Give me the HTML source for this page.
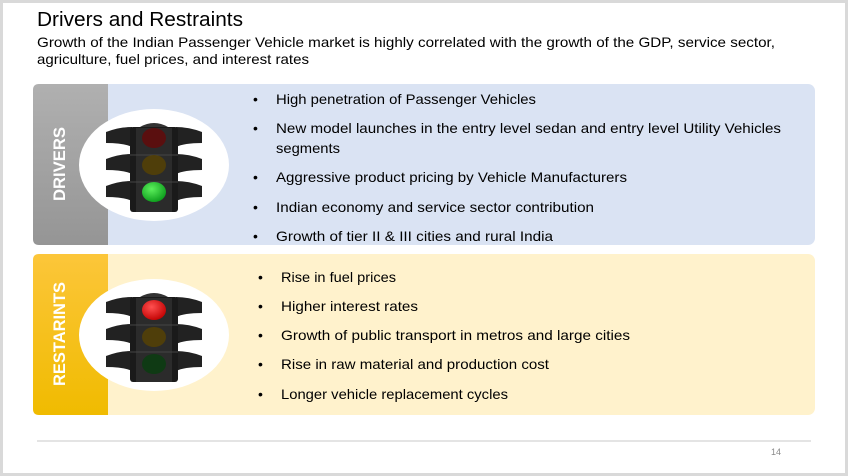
<!DOCTYPE html>
<html><head><meta charset="utf-8"><style>
html,body{margin:0;padding:0;background:#fff;}
svg{display:block;font-family:"Liberation Sans",sans-serif;}
</style></head><body>
<svg width="848" height="476" viewBox="0 0 848 476" xmlns="http://www.w3.org/2000/svg">
<defs>
<linearGradient id="gray" x1="0" y1="0" x2="0" y2="1"><stop offset="0" stop-color="#b0b0b0"/><stop offset="1" stop-color="#959595"/></linearGradient>
<linearGradient id="gold" x1="0" y1="0" x2="0" y2="1"><stop offset="0" stop-color="#fcc63a"/><stop offset="1" stop-color="#f0bb00"/></linearGradient>
<radialGradient id="grn" cx="0.4" cy="0.35" r="0.7"><stop offset="0" stop-color="#5cf05c"/><stop offset="1" stop-color="#0a9a1a"/></radialGradient>
<radialGradient id="red" cx="0.4" cy="0.35" r="0.7"><stop offset="0" stop-color="#ff5050"/><stop offset="1" stop-color="#c00000"/></radialGradient>
<g id="tl">
  <ellipse cx="0" cy="0" rx="75" ry="56" fill="#fff"/>
  <g fill="#222">
    <path d="M-48,-33 Q-35,-38 -22,-38 L-22,-18 Q-30,-22 -48,-22 Z"/><path d="M48,-33 Q35,-38 22,-38 L22,-18 Q30,-22 48,-22 Z"/>
    <path d="M-48,-6 Q-35,-11 -22,-11 L-22,9 Q-30,5 -48,5 Z"/><path d="M48,-6 Q35,-11 22,-11 L22,9 Q30,5 48,5 Z"/>
    <path d="M-48,21 Q-35,16 -22,16 L-22,36 Q-30,32 -48,32 Z"/><path d="M48,21 Q35,16 22,16 L22,36 Q30,32 48,32 Z"/>
  </g>
  <path d="M-14,-38 Q0,-46 14,-38 Z" fill="#333"/>
  <rect x="-24" y="-38" width="48" height="85" rx="3" fill="#1a1a1a"/>
  <rect x="-18" y="-37" width="36" height="84" fill="#2b2b2b"/>
  <line x1="-24" y1="-10" x2="24" y2="-10" stroke="#444"/>
  <line x1="-24" y1="17" x2="24" y2="17" stroke="#444"/>
</g>
</defs>
<rect width="848" height="476" fill="#d9d9d9"/>
<rect x="3" y="3" width="842" height="470" fill="#fff"/>
<text x="37" y="26" font-size="20" fill="#000" textLength="206" lengthAdjust="spacingAndGlyphs">Drivers and Restraints</text>
<text x="37" y="47" font-size="14" fill="#000" textLength="738" lengthAdjust="spacingAndGlyphs">Growth of the Indian Passenger Vehicle market is highly correlated with the growth of the GDP, service sector,</text>
<text x="37" y="64" font-size="14" fill="#000" textLength="272" lengthAdjust="spacingAndGlyphs">agriculture, fuel prices, and interest rates</text>

<rect x="33" y="84" width="782" height="161" rx="7" fill="#dae3f3"/>
<path d="M39,84 H108 V245 H39 Q33,245 33,239 V90 Q33,84 39,84 Z" fill="url(#gray)"/>
<text transform="translate(65,164) rotate(-90)" text-anchor="middle" font-size="17" font-weight="bold" fill="#fff" textLength="74" lengthAdjust="spacingAndGlyphs">DRIVERS</text>

<rect x="33" y="254" width="782" height="161" rx="7" fill="#fff2cc"/>
<path d="M39,254 H108 V415 H39 Q33,415 33,409 V260 Q33,254 39,254 Z" fill="url(#gold)"/>
<text transform="translate(65,334) rotate(-90)" text-anchor="middle" font-size="17" font-weight="bold" fill="#fff" textLength="104" lengthAdjust="spacingAndGlyphs">RESTARINTS</text>

<g transform="translate(154,165)"><use href="#tl"/>
<ellipse cx="0" cy="-27" rx="12" ry="10" fill="#5a0f0f"/><ellipse cx="0" cy="0" rx="12" ry="10" fill="#4f3e0a"/><ellipse cx="0" cy="27" rx="12" ry="10" fill="url(#grn)"/></g>
<g transform="translate(154,335)"><use href="#tl"/>
<ellipse cx="0" cy="-25" rx="12" ry="10" fill="url(#red)"/><ellipse cx="0" cy="2" rx="12" ry="10" fill="#4f3e0a"/><ellipse cx="0" cy="29" rx="12" ry="10" fill="#0f3a14"/></g>

<g font-size="14" fill="#000">
<text x="253" y="104">•</text><text x="276" y="104" textLength="260" lengthAdjust="spacingAndGlyphs">High penetration of Passenger Vehicles</text>
<text x="253" y="133">•</text><text x="276" y="133" textLength="505" lengthAdjust="spacingAndGlyphs">New model launches in the entry level sedan and entry level Utility Vehicles</text>
<text x="276" y="153" textLength="64" lengthAdjust="spacingAndGlyphs">segments</text>
<text x="253" y="182">•</text><text x="276" y="182" textLength="351" lengthAdjust="spacingAndGlyphs">Aggressive product pricing by Vehicle Manufacturers</text>
<text x="253" y="212">•</text><text x="276" y="212" textLength="318" lengthAdjust="spacingAndGlyphs">Indian economy and service sector contribution</text>
<text x="253" y="241">•</text><text x="276" y="241" textLength="277" lengthAdjust="spacingAndGlyphs">Growth of tier II &amp; III cities and rural India</text>

<text x="258" y="282">•</text><text x="281" y="282" textLength="115" lengthAdjust="spacingAndGlyphs">Rise in fuel prices</text>
<text x="258" y="311">•</text><text x="281" y="311" textLength="137" lengthAdjust="spacingAndGlyphs">Higher interest rates</text>
<text x="258" y="340">•</text><text x="281" y="340" textLength="349" lengthAdjust="spacingAndGlyphs">Growth of public transport in metros and large cities</text>
<text x="258" y="369">•</text><text x="281" y="369" textLength="268" lengthAdjust="spacingAndGlyphs">Rise in raw material and production cost</text>
<text x="258" y="399">•</text><text x="281" y="399" textLength="227" lengthAdjust="spacingAndGlyphs">Longer vehicle replacement cycles</text>
</g>

<line x1="37" y1="441" x2="811" y2="441" stroke="#c8c8c8" stroke-width="1"/>
<text x="771" y="455" font-size="9" fill="#8a8a8a">14</text>
</svg>
</body></html>
